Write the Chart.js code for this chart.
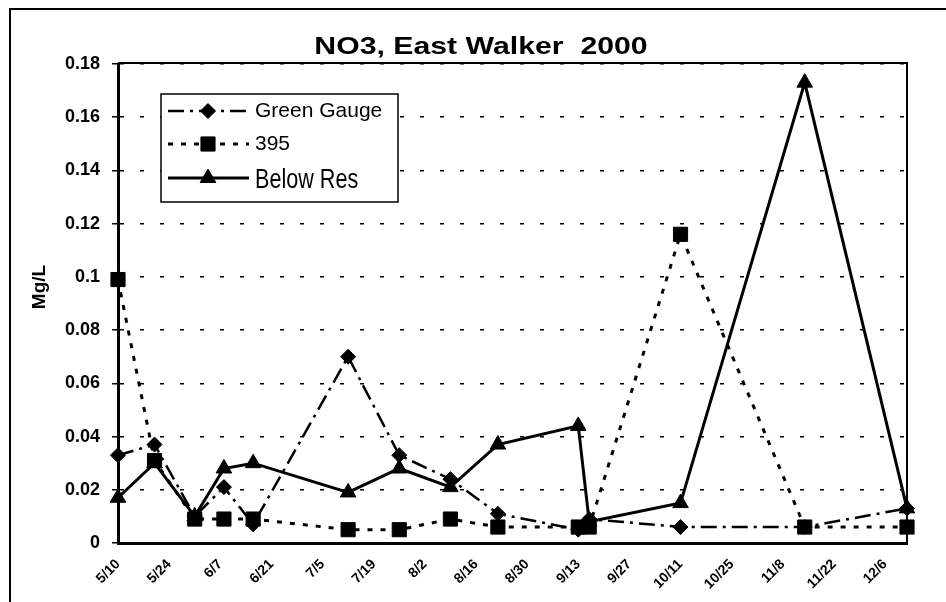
<!DOCTYPE html>
<html>
<head>
<meta charset="utf-8">
<title>NO3, East Walker 2000</title>
<script src="https://cdn.jsdelivr.net/npm/chart.js@4.4.1/dist/chart.umd.min.js"></script>
<style>
  html, body { margin: 0; padding: 0; background: #fff; }
</style>
</head>
<body>
<canvas id="no3Chart" width="946" height="602"></canvas>
<script>
// sampling dates (2000) and NO3 values, Mg/L
const sampleDates = ['5/10', '5/20', '5/31', '6/8', '6/16', '7/12', '7/26', '8/9', '8/22', '9/13', '9/16', '10/11', '11/14', '12/12'];
const greenGauge  = [0.033, 0.037, 0.010, 0.021, 0.007, 0.070, 0.033, 0.024, 0.011, 0.005, 0.009, 0.006, 0.006, 0.013];
const site395     = [0.099, 0.031, 0.009, 0.009, 0.009, 0.005, 0.005, 0.009, 0.006, 0.006, 0.006, 0.116, 0.006, 0.006];
const belowRes    = [0.017, 0.030, 0.010, 0.028, 0.030, 0.019, 0.028, 0.021, 0.037, 0.044, 0.008, 0.015, 0.173, 0.013];

const tickLabels  = ['5/10', '5/24', '6/7', '6/21', '7/5', '7/19', '8/2', '8/16', '8/30', '9/13', '9/27', '10/11', '10/25', '11/8', '11/22', '12/6'];
const yTickLabels = ['0', '0.02', '0.04', '0.06', '0.08', '0.1', '0.12', '0.14', '0.16', '0.18'];

// days since first sample
function dayOf(md) {
  const [m, d] = md.split('/').map(Number);
  return (Date.UTC(2000, m - 1, d) - Date.UTC(2000, 4, 10)) / 864e5;
}
function toPoints(values) {
  return sampleDates.map(function (d, i) { return { x: dayOf(d), y: values[i] }; });
}

const black = '#000';

// frame, title, axis title and the boxed legend
const decor = {
  id: 'decor',
  beforeDraw(chart) {
    const ctx = chart.ctx;
    ctx.save();
    ctx.fillStyle = '#fff';
    ctx.fillRect(0, 0, chart.width, chart.height);
    ctx.strokeStyle = black;
    ctx.lineWidth = 2;
    ctx.strokeRect(10, 9, chart.width + 20, chart.height + 20);
    ctx.restore();
  },
  beforeDatasetsDraw(chart) {
    const { ctx, chartArea: a } = chart;
    ctx.save();
    ctx.strokeStyle = black;
    ctx.lineWidth = 2;
    ctx.beginPath();
    ctx.moveTo(a.left, a.top - 1);
    ctx.lineTo(a.right, a.top - 1);
    ctx.lineTo(a.right, a.bottom);
    ctx.stroke();
    ctx.restore();
  },
  afterDraw(chart) {
    const ctx = chart.ctx;
    ctx.save();
    ctx.fillStyle = black;

    // title (the scan is stretched sideways)
    ctx.font = 'bold 24px "Liberation Sans", Arial, sans-serif';
    ctx.textAlign = 'center';
    ctx.textBaseline = 'alphabetic';
    ctx.save();
    ctx.translate(481, 54);
    ctx.scale(1.26, 1);
    ctx.fillText('NO3, East Walker  2000', 0, 0);
    ctx.restore();

    // y axis title
    ctx.save();
    ctx.translate(45, 287);
    ctx.rotate(-Math.PI / 2);
    ctx.font = 'bold 19px "Liberation Sans", Arial, sans-serif';
    ctx.textBaseline = 'alphabetic';
    ctx.fillText('Mg/L', 0, 0);
    ctx.restore();

    // legend box
    ctx.fillStyle = '#fff';
    ctx.fillRect(161, 94, 237, 108);
    ctx.strokeStyle = black;
    ctx.lineWidth = 1.5;
    ctx.strokeRect(161, 94, 237, 108);

    const rows = [111, 144, 178];
    chart.data.datasets.forEach(function (ds, i) {
      const y = rows[i];
      ctx.strokeStyle = black;
      ctx.fillStyle = black;
      ctx.lineWidth = ds.borderWidth;
      ctx.setLineDash(ds.borderDash || []);
      ctx.beginPath();
      ctx.moveTo(168, y);
      ctx.lineTo(249, y);
      ctx.stroke();
      ctx.setLineDash([]);
      ctx.lineWidth = 1;
      Chart.helpers.drawPoint(ctx, { pointStyle: ds.pointStyle, radius: ds.pointRadius, rotation: 0, borderWidth: 1 }, 208, y);

      ctx.textAlign = 'left';
      ctx.textBaseline = 'middle';
      if (i === 2) {
        ctx.save();
        ctx.translate(255, y + 3);
        ctx.scale(0.8, 1);
        ctx.font = '27px "Liberation Sans", Arial, sans-serif';
        ctx.fillText(ds.label, 0, 0);
        ctx.restore();
      } else {
        ctx.font = '21px "Liberation Sans", Arial, sans-serif';
        ctx.fillText(ds.label, 255, y);
      }
    });
    ctx.restore();
  }
};

new Chart(document.getElementById('no3Chart'), {
  type: 'line',
  data: {
    datasets: [
      {
        label: 'Green Gauge',
        data: toPoints(greenGauge),
        borderColor: black,
        backgroundColor: black,
        borderWidth: 2.5,
        borderDash: [16, 6, 3, 6],
        pointStyle: 'rectRot',
        pointRadius: 7.5,
        pointBorderWidth: 1,
        clip: false
      },
      {
        label: '395',
        data: toPoints(site395),
        borderColor: black,
        backgroundColor: black,
        borderWidth: 3,
        borderDash: [5, 8],
        pointStyle: 'rect',
        pointRadius: 10,
        pointBorderWidth: 1,
        clip: false
      },
      {
        label: 'Below Res',
        data: toPoints(belowRes),
        borderColor: black,
        backgroundColor: black,
        borderWidth: 3,
        pointStyle: 'triangle',
        pointRadius: 9,
        pointBorderWidth: 1,
        clip: false
      }
    ]
  },
  options: {
    responsive: false,
    animation: false,
    devicePixelRatio: 1,
    layout: { padding: { top: 64, right: 39, left: 0, bottom: 0 } },
    plugins: {
      legend: { display: false },
      title: { display: false },
      tooltip: { enabled: false }
    },
    scales: {
      x: {
        type: 'linear',
        min: dayOf(sampleDates[0]),
        max: dayOf(sampleDates[sampleDates.length - 1]),
        afterBuildTicks: function (scale) {
          scale.ticks = tickLabels.map(function (l) { return { value: dayOf(l) }; });
        },
        afterFit: function (scale) { scale.height = 59; },
        grid: { display: false, drawTicks: false },
        border: { display: true, color: black, width: 3 },
        ticks: {
          autoSkip: false,
          maxRotation: 45,
          minRotation: 45,
          padding: 13,
          color: black,
          font: { family: '"Liberation Sans", Arial, sans-serif', size: 14, weight: 'bold' },
          callback: function (v, i) { return tickLabels[i]; }
        }
      },
      y: {
        min: 0,
        max: 0.18,
        afterBuildTicks: function (scale) {
          scale.ticks = yTickLabels.map(function (l) { return { value: Number(l) }; });
        },
        afterFit: function (scale) { scale.width = 118; },
        grid: {
          color: black,
          lineWidth: 1.5,
          tickLength: 6,
          tickColor: black,
          tickWidth: 1.5
        },
        border: { display: true, color: black, width: 3, dash: [4, 16] },
        ticks: {
          padding: 12,
          color: black,
          font: { family: '"Liberation Sans", Arial, sans-serif', size: 18, weight: 'bold' },
          callback: function (v, i) { return yTickLabels[i]; }
        }
      }
    }
  },
  plugins: [decor]
});
</script>
</body>
</html>
